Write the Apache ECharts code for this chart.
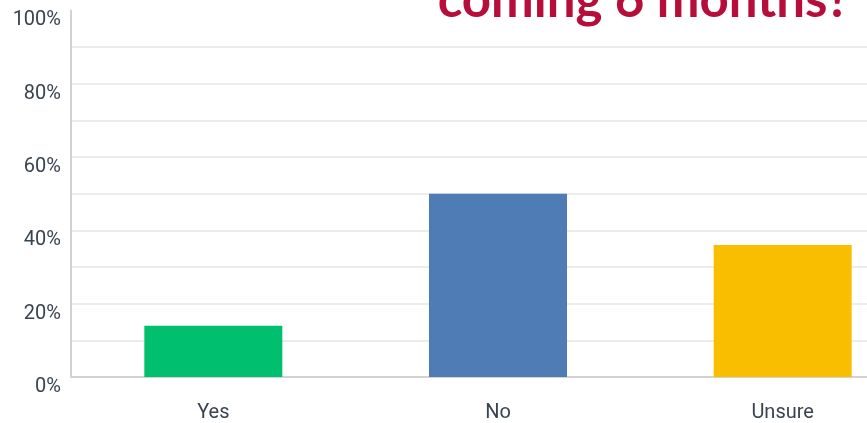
<!DOCTYPE html>
<html>
<head>
<meta charset="utf-8">
<script src="https://cdn.jsdelivr.net/npm/echarts@6/dist/echarts.min.js"></script>
<style>
  html, body { margin: 0; padding: 0; background: #ffffff; }
  #chart { width: 867px; height: 423px; }
</style>
</head>
<body>
<div id="chart"></div>
<script>
// Survey answers and their share of respondents (%)
const categories = ['Yes', 'No', 'Unsure'];
const shares = [14, 50, 36];
const barColors = ['#00bf6f', '#507cb6', '#f9be00'];
const titleText = 'coming 6 months?';

// Axis runs 0–100 in steps of 10; only every other step is labelled
const yMin = 0, yMax = 100, yStep = 10;

const chart = echarts.init(document.getElementById('chart'), null, { renderer: 'canvas' });

// Gridlines at every step except the top one
const gridColors = [];
for (let v = yMin; v <= yMax; v += yStep) gridColors.push(v === yMax ? 'rgba(0,0,0,0)' : '#ececec');

chart.setOption({
  animation: false,
  backgroundColor: '#ffffff',
  title: {
    text: titleText,
    right: 12,
    top: -30,
    textStyle: { color: '#b70d3b', fontSize: 51, fontWeight: 'bold', fontFamily: 'Lato' }
  },
  grid: {
    left: 71, top: 10.4, right: -58, bottom: 46,
    containLabel: false,
    outerBoundsMode: 'none'
  },
  xAxis: {
    type: 'category',
    data: categories,
    axisLine: { lineStyle: { color: '#d2d2d2', width: 2 } },
    axisTick: { show: false },
    axisLabel: { color: '#3a4450', fontSize: 20, fontFamily: 'Roboto', margin: 26 }
  },
  yAxis: {
    type: 'value',
    min: yMin, max: yMax, interval: yStep,
    axisLine: { show: true, lineStyle: { color: '#d2d2d2', width: 2 } },
    axisTick: { show: false },
    splitLine: { show: true, lineStyle: { color: gridColors, width: 2 } },
    axisLabel: {
      formatter: v => (v % 20 === 0 ? v + '%' : ''),
      color: '#3a4450', fontSize: 20, fontFamily: 'Roboto',
      margin: 10, verticalAlign: 'top', lineHeight: 20
    }
  },
  series: [{
    type: 'bar',
    barWidth: 138,
    data: shares.map((v, i) => ({ value: v, itemStyle: { color: barColors[i] } }))
  }]
});
</script>
</body>
</html>
